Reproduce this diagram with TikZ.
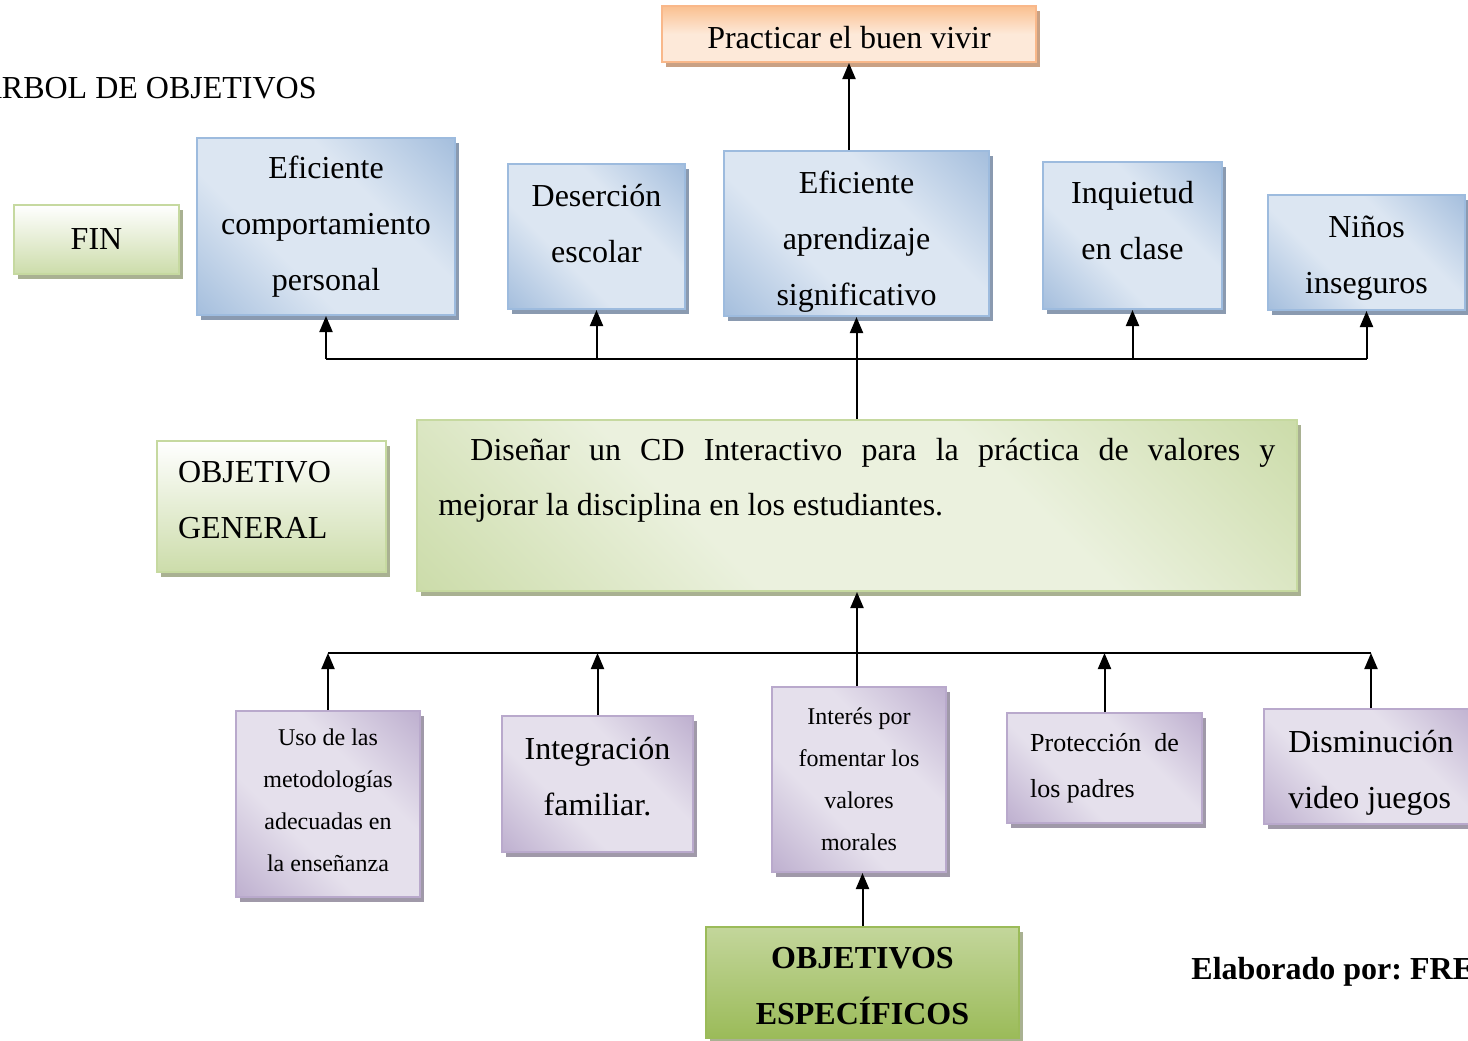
\documentclass[tikz,border=0pt]{standalone}
\usepackage{fontspec}
\setmainfont{Liberation Serif}
\usetikzlibrary{arrows.meta, shadows}

\definecolor{azulos}{HTML}{95B3D7}
\definecolor{azulcl}{HTML}{DCE6F2}
\definecolor{azulbd}{HTML}{9DBBDE}
\definecolor{azulsh}{HTML}{8A9AB0}
\definecolor{lilaos}{HTML}{B3A2C7}
\definecolor{lilacl}{HTML}{E5E0EC}
\definecolor{lilabd}{HTML}{B9A9CC}
\definecolor{lilash}{HTML}{A099A9}
\definecolor{verdeos}{HTML}{C3D69B}
\definecolor{verdecl}{HTML}{EBF1DE}
\definecolor{verdebd}{HTML}{C6D9A0}
\definecolor{verdesh}{HTML}{A9B192}
\definecolor{verdeosc}{HTML}{9BBB59}
\definecolor{naros}{HTML}{FAC090}
\definecolor{narcl}{HTML}{FDE9D9}
\definecolor{narbd}{HTML}{F9B88A}
\definecolor{narsh}{HTML}{C9A184}

% degradados en diagonal
\pgfdeclareverticalshading{diagazul}{100bp}{color(0bp)=(azulos); color(8bp)=(azulos); color(38bp)=(azulcl);
  color(62bp)=(azulcl); color(92bp)=(azulos); color(100bp)=(azulos)}
\pgfdeclareverticalshading{diaglila}{100bp}{color(0bp)=(lilaos); color(8bp)=(lilaos); color(38bp)=(lilacl);
  color(62bp)=(lilacl); color(92bp)=(lilaos); color(100bp)=(lilaos)}
\pgfdeclareverticalshading{diagverde}{100bp}{color(0bp)=(verdeos); color(8bp)=(verdeos); color(38bp)=(verdecl);
  color(62bp)=(verdecl); color(92bp)=(verdeos); color(100bp)=(verdeos)}

% ajuste vertical del texto en las cajas
\newcommand{\arriba}[1]{\rule[-#1]{0pt}{#1}}
\newcommand{\abajo}[1]{\rule{0pt}{#1}}

\begin{document}
\begin{tikzpicture}[x=0.5pt, y=-0.5pt,
  tam/.style 2 args={minimum width=#1*0.5pt, minimum height=#2*0.5pt},
  caja/.style={line width=1pt, inner sep=0pt, align=center, font=\fontsize{16}{28}\selectfont},
  azul/.style={caja, draw=azulbd, shade, shading=diagazul, shading angle=-45,
    general shadow={shadow xshift=2pt, shadow yshift=-2.5pt, fill=azulsh}},
  lila/.style={caja, draw=lilabd, shade, shading=diaglila, shading angle=-45,
    general shadow={shadow xshift=2pt, shadow yshift=-2.5pt, fill=lilash}},
  verde/.style={caja, draw=verdebd, shade, shading=diagverde, shading angle=-45,
    general shadow={shadow xshift=2pt, shadow yshift=-2.5pt, fill=verdesh}},
  rotulo/.style={caja, draw=verdebd, top color=white, bottom color=verdeos!85,
    general shadow={shadow xshift=2pt, shadow yshift=-2.5pt, fill=verdesh}},
  naranja/.style={caja, draw=narbd, top color=naros, bottom color=narcl, middle color=narcl,
    general shadow={shadow xshift=2pt, shadow yshift=-2.5pt, fill=narsh}},
  flecha/.style={-{Triangle[length=8pt,width=6.5pt]}, line width=1pt},
  linea/.style={line width=1pt}
]
\useasboundingbox (0,0) rectangle (1468,1040);

% Titulo
\node[anchor=east, inner sep=0pt, font=\fontsize{16}{28}\selectfont] (titulo) at (317,88) {ARBOL DE OBJETIVOS};

% Fin
\node[naranja, tam={374}{56}] (buenvivir) at (849,34) {\abajo{15pt}Practicar el buen vivir};
\node[rotulo, tam={165}{69}] (fin) at (96.5,239.5) {FIN};
\node[azul, tam={258}{177}] (comport) at (326,226.5) {Eficiente\\comportamiento\\personal};
\node[azul, tam={177}{145}] (desercion) at (596.5,236.5) {Deserción\\escolar\arriba{13pt}};
\node[azul, tam={265}{165}] (aprend) at (856.5,233.5) {\abajo{19pt}Eficiente\\aprendizaje\\significativo};
\node[azul, tam={179}{147}] (inquietud) at (1132.5,235.5) {Inquietud\\en clase\arriba{15pt}};
\node[azul, tam={197}{115}] (ninos) at (1366.5,252.5) {\abajo{16pt}Niños\\inseguros};

% Objetivo general
\node[rotulo, tam={229}{131}, text width=93.5pt, align=left, inner xsep=10.5pt] (objgen) at (271.5,506.5) {OBJETIVO\\GENERAL\arriba{7pt}};
\node[verde, tam={880}{171}] (disenar) at (857,505.5) {};
\node[anchor=north west, inner sep=0pt, text width=418.5pt, align=justify, font=\fontsize{16}{27.5}\selectfont] (disenartxt) at (438,438)
  {\hspace*{16pt}Diseñar un CD Interactivo para la práctica de valores y\linebreak mejorar la disciplina en los estudiantes.};

% Objetivos especificos
\node[lila, tam={184}{186}, font=\fontsize{12}{21}\selectfont] (metodo) at (328,804) {Uso de las\\metodologías\\adecuadas en\\la enseñanza\arriba{4pt}};
\node[lila, tam={191}{136}] (integra) at (597.5,784) {Integración\\familiar.\arriba{8pt}};
\node[lila, tam={174}{185}, font=\fontsize{12}{21}\selectfont] (interes) at (859,779.5) {Interés por\\fomentar los\\valores\\morales};
\node[lila, tam={195}{110}, align=left, font=\fontsize{13}{23}\selectfont] (proteccion) at (1104.5,768) {Protección\ \ de\\los padres};
\node[lila, tam={214}{115}, align=left] (juegos) at (1371,766.5) {\abajo{17pt}Disminución\\video juegos};
\node[caja, draw=verdeosc, top color=verdeos, bottom color=verdeosc, tam={313}{111},
  general shadow={shadow xshift=2pt, shadow yshift=-2.5pt, fill=verdesh}, font=\bfseries\fontsize{16}{28}\selectfont] (especif) at (862.5,982.5) {\abajo{14.6pt}OBJETIVOS\\ESPECÍFICOS};

\node[anchor=west, inner sep=0pt, font=\bfseries\fontsize{16}{28}\selectfont] (autor) at (1191,972) {Elaborado por:\ FRE};

% Conectores arriba
\coordinate (arribaI) at (comport.south |- 0,359);
\coordinate (arribaD) at (ninos.south |- 0,359);
\draw[linea] (arribaI) -- (arribaD);
\foreach \n in {comport, desercion, aprend, inquietud, ninos}
  \draw[flecha] (\n.south |- arribaI) -- (\n.south);
\draw[linea] (disenar.north) -- (disenar.north |- arribaI);
\draw[flecha] (buenvivir.south |- aprend.north) -- (buenvivir.south);

% Conectores abajo
\coordinate (abajoI) at (metodo.north |- 0,653);
\coordinate (abajoD) at (juegos.north |- 0,653);
\draw[linea] (abajoI) -- (abajoD);
\foreach \n in {metodo, integra, proteccion, juegos}
  \draw[flecha] (\n.north) -- (\n.north |- abajoI);
\draw[flecha] (disenar.south |- interes.north) -- (disenar.south);
\draw[flecha] (especif.north) -- (especif.north |- interes.south);
\end{tikzpicture}
\end{document}
